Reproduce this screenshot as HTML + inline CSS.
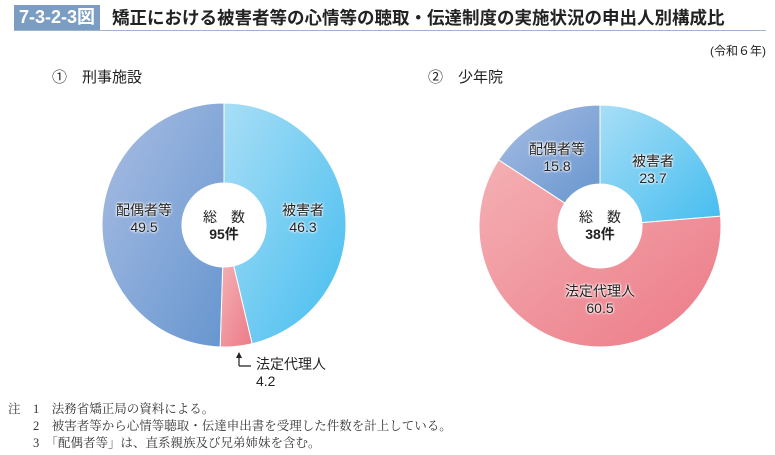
<!DOCTYPE html>
<html><head><meta charset="utf-8">
<style>
body{margin:0;background:#fff;}
#c{position:relative;width:775px;height:455px;overflow:hidden;font-family:"Liberation Sans","Noto Sans CJK JP",sans-serif;color:#222;}
.t{position:absolute;white-space:nowrap;}
.lab{position:absolute;text-align:center;font-size:14px;line-height:17px;color:#222;text-shadow:0 0 2px #fff,0 0 2px #fff,0 0 3px #fff;transform:translateX(-50%);}
.note{position:absolute;font-size:12.5px;color:#333;font-family:"Liberation Serif","Noto Serif CJK SC",serif;white-space:nowrap;}
</style></head><body>
<div id="c">
<div class="t" style="left:14px;top:5px;width:86px;height:25px;background:#7b9dc1;color:#fff;font-weight:bold;font-size:18px;line-height:25px;text-align:center;">7-3-2-3図</div>
<div style="position:absolute;left:14px;top:30px;width:752px;height:1px;background:#9db4cf;"></div>
<div class="t" style="left:112px;top:6px;font-size:17.5px;font-weight:bold;line-height:24px;color:#222;">矯正における被害者等の心情等の聴取・伝達制度の実施状況の申出人別構成比</div>
<div class="t" style="left:710px;top:42px;font-size:12px;">(令和６年)</div>
<div class="t" style="left:52px;top:66px;font-size:15px;">①　刑事施設</div>
<div class="t" style="left:428px;top:66px;font-size:15px;">②　少年院</div>
<svg width="775" height="455" style="position:absolute;left:0;top:0">
<defs>
<linearGradient id="gb" x1="0" y1="0" x2="1" y2="1"><stop offset="0" stop-color="#a8def6"/><stop offset="1" stop-color="#45bdef"/></linearGradient>
<linearGradient id="gp" x1="0" y1="0" x2="1" y2="1"><stop offset="0" stop-color="#f4b0b3"/><stop offset="1" stop-color="#ec7a87"/></linearGradient>
<linearGradient id="gs" x1="0" y1="0" x2="1" y2="1"><stop offset="0" stop-color="#a9bde3"/><stop offset="1" stop-color="#6696cf"/></linearGradient>
</defs>
<g id="p1"></g><g id="p2"></g>
<path d="M239 366 V357 M239 366 H251" stroke="#222" stroke-width="1.2" fill="none"/>
<path d="M239 352 l-3 6 h6z" fill="#222"/>
</svg>
<div class="lab" style="left:224px;top:209px;text-shadow:none">総　数<br><b>95件</b></div>
<div class="lab" style="left:303px;top:202px">被害者<br>46.3</div>
<div class="lab" style="left:144px;top:202px">配偶者等<br>49.5</div>
<div class="t" style="left:256px;top:356px;font-size:14px;line-height:17px;">法定代理人<br>4.2</div>
<div class="lab" style="left:600px;top:209px;text-shadow:none">総　数<br><b>38件</b></div>
<div class="lab" style="left:653px;top:153px">被害者<br>23.7</div>
<div class="lab" style="left:557px;top:141px">配偶者等<br>15.8</div>
<div class="lab" style="left:600px;top:283px">法定代理人<br>60.5</div>
<div class="note" style="left:8px;top:399px">注　1　法務省矯正局の資料による。</div>
<div class="note" style="left:8px;top:416px">　　2　被害者等から心情等聴取・伝達申出書を受理した件数を計上している。</div>
<div class="note" style="left:8px;top:433px">　　3　「配偶者等」は、直系親族及び兄弟姉妹を含む。</div>
</div>
<script>
function pie(id,cx,cy,R,r,vals,fills){
 var g=document.getElementById(id),a=0,s='';
 for(var i=0;i<vals.length;i++){
  var a0=a,a1=a+vals[i]/100*2*Math.PI;a=a1;
  var p=function(rad,an){return (cx+rad*Math.sin(an)).toFixed(2)+' '+(cy-rad*Math.cos(an)).toFixed(2);};
  var lg=(a1-a0)>Math.PI?1:0;
  s+='<path d="M'+p(R,a0)+' A'+R+' '+R+' 0 '+lg+' 1 '+p(R,a1)+' L'+p(r,a1)+' A'+r+' '+r+' 0 '+lg+' 0 '+p(r,a0)+'Z" fill="'+fills[i]+'" stroke="#fff" stroke-width="1"/>';
 }
 g.innerHTML=s;
}
pie('p1',224,225,122,42,[46.3,4.2,49.5],['url(#gb)','url(#gp)','url(#gs)']);
pie('p2',600,226,121,42,[23.7,60.5,15.8],['url(#gb)','url(#gp)','url(#gs)']);
</script>
</body></html>
